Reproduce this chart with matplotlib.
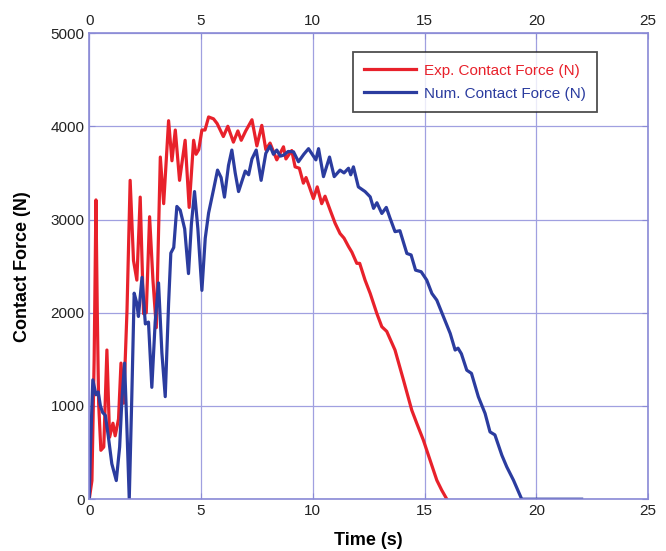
import numpy as np
import matplotlib.pyplot as plt

plt.rcParams['font.family'] = ['Liberation Sans', 'DejaVu Sans']

# 实验接触力 (N)
t_exp = [0, 0.12, 0.22, 0.30, 0.36, 0.42, 0.52, 0.65, 0.79, 0.91,
         1.06, 1.16, 1.31, 1.42, 1.54, 1.69, 1.83, 1.98, 2.13, 2.28,
         2.43, 2.55, 2.70, 2.85, 3.0, 3.18, 3.33, 3.55, 3.70, 3.85,
         4.04, 4.29, 4.47, 4.67, 4.78, 4.9, 5.04, 5.18, 5.34, 5.56,
         5.72, 6.0, 6.2, 6.45, 6.65, 6.8, 7.0, 7.28, 7.5, 7.72,
         7.9, 8.09, 8.39, 8.69, 8.8, 9.06, 9.21, 9.4, 9.58, 9.7,
         9.85, 10.03, 10.2, 10.4, 10.55, 10.78, 11.0, 11.22, 11.4, 11.6,
         11.75, 11.97, 12.1, 12.34, 12.57, 12.87, 13.09, 13.31, 13.68, 14.06,
         14.43, 14.66, 14.95, 15.25, 15.55, 15.77, 16.0]
f_exp = [0, 200, 1500, 3210, 2000, 1030, 525, 560, 1600, 665,
         815, 680, 860, 1460, 1030, 2030, 3420, 2560, 2350, 3240,
         1990, 2000, 3030, 2350, 1840, 3670, 3170, 4060, 3630, 3960,
         3420, 3850, 3130, 3850, 3700, 3750, 3960, 3960, 4100, 4080,
         4030, 3890, 4000, 3830, 3950, 3850, 3950, 4070, 3790, 4010,
         3750, 3820, 3640, 3780, 3650, 3740, 3565, 3550, 3390, 3450,
         3350, 3225, 3350, 3170, 3250, 3100, 2960, 2850, 2800, 2710,
         2650, 2530, 2530, 2350, 2207, 1990, 1850, 1800, 1600, 1277,
         955, 810, 633, 418, 204, 97, 0]

# 数值接触力 (N)
t_num = [0, 0.05, 0.16, 0.3, 0.4, 0.5, 0.6, 0.72, 0.85, 1.01,
         1.21, 1.36, 1.46, 1.58, 1.68, 1.79, 1.9, 2.01, 2.13, 2.2,
         2.36, 2.51, 2.65, 2.8, 2.95, 3.1, 3.25, 3.40, 3.55, 3.65,
         3.78, 3.92, 4.07, 4.27, 4.44, 4.57, 4.71, 4.86, 5.04, 5.19,
         5.34, 5.56, 5.74, 5.9, 6.05, 6.23, 6.38, 6.53, 6.68, 6.98,
         7.13, 7.28, 7.47, 7.69, 7.9, 8.09, 8.24, 8.39, 8.55, 8.69,
         8.9, 9.14, 9.36, 9.6, 9.81, 10.14, 10.26, 10.48, 10.75, 10.96,
         11.22, 11.4, 11.6, 11.7, 11.82, 12.04, 12.34, 12.57, 12.72, 12.87,
         13.09, 13.29, 13.45, 13.68, 13.9, 14.21, 14.4, 14.6, 14.85, 15.1,
         15.33, 15.55, 15.85, 16.15, 16.37, 16.5, 16.65, 16.89, 17.1, 17.41,
         17.71, 17.93, 18.15, 18.46, 18.68, 18.98, 19.35, 22.03]
f_num = [0, 500, 1280, 1120, 1150, 1000, 930, 900, 680, 380,
         200, 560, 1060, 1460, 800, 0, 1060, 2210, 2100, 1960,
         2380, 1880, 1900, 1200, 1900, 2320, 1570, 1100, 2100, 2640,
         2700, 3140, 3100, 2900, 2420, 2950, 3300, 2900, 2240, 2800,
         3070, 3320, 3530, 3450, 3240, 3580, 3745, 3500, 3300, 3520,
         3480, 3650, 3745, 3420, 3710, 3790, 3700, 3745, 3680, 3690,
         3730, 3726, 3620, 3700, 3760, 3640, 3760, 3460, 3670, 3460,
         3530, 3500, 3550, 3480, 3565, 3350, 3300, 3243, 3120, 3180,
         3065, 3130, 3020, 2870, 2880, 2636, 2620, 2457, 2440, 2350,
         2207, 2135, 1956, 1778, 1600, 1620, 1560, 1384, 1350, 1098,
         920, 722, 690, 472, 347, 204, 0, 0]

ticks_x = [0, 5, 10, 15, 20, 25]
ticks_y = [0, 1000, 2000, 3000, 4000, 5000]

red = '#e8212b'
blue = '#2b3c9f'
edge = '#8a8ad6'

fig = plt.figure(figsize=(6.66, 5.51), dpi=100)
ax = fig.add_axes([0.134, 0.094, 0.839, 0.846])

ax.plot(t_exp, f_exp, color=red, lw=2.3, label='Exp. Contact Force (N)')
ax.plot(t_num, f_num, color=blue, lw=2.3, label='Num. Contact Force (N)')

ax.set_xlim(0, 25)
ax.set_ylim(0, 5000)
ax.set_xticks(ticks_x)
ax.set_yticks(ticks_y)
ax.grid(True, color='#a0a0e0', lw=0.9)
ax.set_axisbelow(True)
for s in ax.spines.values():
    s.set_color(edge)
    s.set_linewidth(1.2)
ax.tick_params(direction='in', length=4, color=edge, labelsize=11,
               labelcolor='#222222', top=True, labeltop=True, right=True)

ax.set_xlabel('Time (s)', fontsize=13, fontweight='bold', labelpad=10)
ax.set_ylabel('Contact Force (N)', fontsize=13, fontweight='bold', labelpad=14)

leg = ax.legend(loc='upper right', bbox_to_anchor=(0.909, 0.959), borderaxespad=0,
                fontsize=11, frameon=True, fancybox=False, edgecolor='#222222',
                handlelength=3.4, handletextpad=0.5, borderpad=0.75,
                labelspacing=0.6)
leg.get_frame().set_linewidth(1.3)
for txt, c in zip(leg.get_texts(), [red, blue]):
    txt.set_color(c)

plt.savefig('out.png', dpi=100)
